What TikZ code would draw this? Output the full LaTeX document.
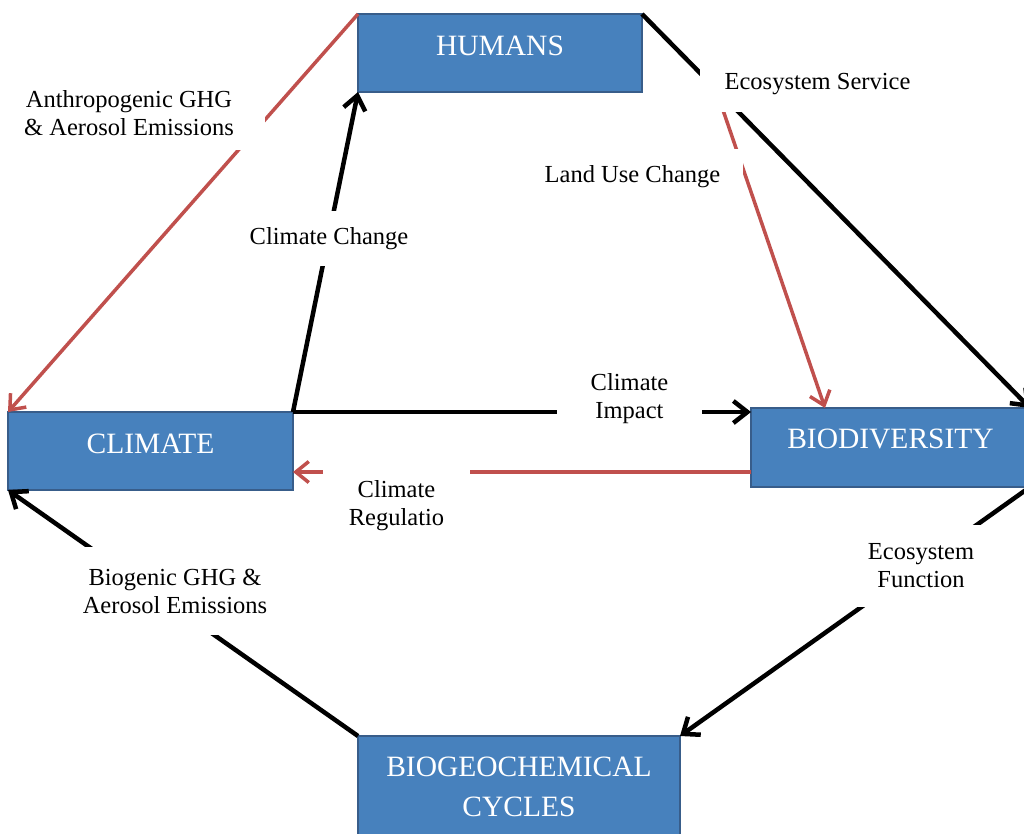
\documentclass[tikz,border=0pt]{standalone}
\usepackage{fontspec}
\setmainfont{Liberation Serif}
\usetikzlibrary{arrows.meta,calc}
\definecolor{boxfill}{RGB}{71,129,189}
\definecolor{boxedge}{RGB}{56,93,138}
\definecolor{redc}{RGB}{192,80,77}
\tikzset{
  box/.style={draw=boxedge, fill=boxfill, line width=2.5pt, rectangle, inner sep=0pt, outer sep=0pt,
    text=white, font=\fontsize{29.5}{40}\selectfont},
  boxtext/.style={text=white, inner sep=0pt, align=center, font=\fontsize{29.5}{40}\selectfont},
  lab/.style={fill=white, inner sep=0pt, align=center, font=\fontsize{24.5}{28}\selectfont},
  blk/.style={draw=black, line width=4.5pt, -{Straight Barb[length=14pt,width=22pt]}},
  redl/.style={draw=redc, line width=3.5pt, -{Straight Barb[length=13pt,width=21pt]}}
}
\begin{document}
\begin{tikzpicture}[x=1pt,y=-1pt]
\useasboundingbox (0,0) rectangle (1024,833);
% boxes
\node[box, minimum width=284pt, minimum height=78pt, text height=22pt, text depth=18pt] (hum) at (500,53) {HUMANS};
\node[box, minimum width=285pt, minimum height=78pt, text height=22pt, text depth=18pt] (cli) at (150.5,451) {CLIMATE};
\node[box, minimum width=279pt, minimum height=79pt, text height=20pt, text depth=19pt] (bio) at (890.5,447.5) {BIODIVERSITY};
\node[box, minimum width=322pt, minimum height=124pt] (bgc) at (519,798) {};
\node[boxtext, anchor=north] (bgct) at (519,757) {BIOGEOCHEMICAL\\CYCLES};
% connectors
\draw[redl] (hum.north west) -- (cli.north west);
\draw[blk] (cli.north east) -- (hum.south west);
\draw[blk] (hum.north east) -- (bio.north east);
\coordinate (lu) at ($(hum.north east)!0.19!(bio.north east)$);
\draw[redl] (lu) -- ([xshift=74pt]bio.north west);
\draw[blk] (cli.north east) -- (cli.north east -| bio.west);
\draw[redl] ([yshift=15pt]bio.south west) -- ([yshift=15pt]bio.south west -| cli.east);
\draw[blk] (bio.south east) -- (bgc.north east);
\draw[blk] (bgc.north west) -- (cli.south west);
% labels
\node[lab, minimum width=272pt, minimum height=75pt] (l1) at (129,112.7) {Anthropogenic GHG\\\&~Aerosol Emissions};
\node[lab, minimum width=178pt, minimum height=55pt] (l2) at (329,238.3) {Climate Change};
\node[lab, minimum width=235pt, minimum height=55pt] (l3) at (817.5,84.5) {Ecosystem Service};
\node[lab, minimum width=221pt, minimum height=55pt] (l4) at (632.5,176.3) {Land Use Change};
\node[lab, minimum width=145pt, minimum height=65pt] (l5) at (629.5,398.3) {Climate\\Impact};
\node[lab, minimum width=147pt, minimum height=82pt] (l6) at (396.5,505.8) {Climate\\Regulatio};
\node[lab, minimum width=150pt, minimum height=82pt] (l7) at (921,566) {Ecosystem\\Function};
\node[lab, minimum width=190pt, minimum height=88pt] (l8) at (175,591) {Biogenic GHG \&\\Aerosol Emissions};
\end{tikzpicture}
\end{document}
